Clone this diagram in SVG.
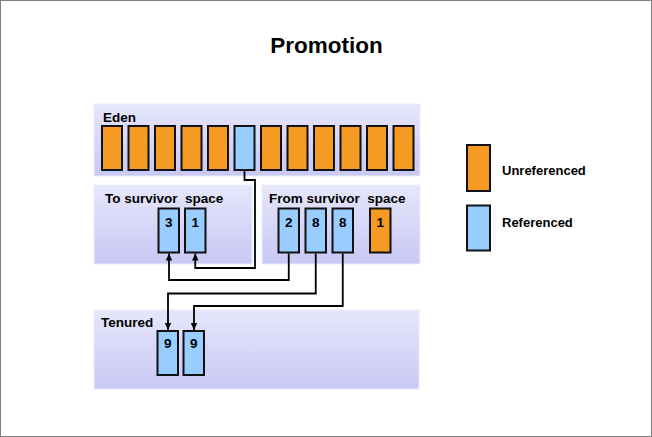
<svg xmlns="http://www.w3.org/2000/svg" width="652" height="437" viewBox="0 0 652 437">
<defs>
<linearGradient id="pg" x1="0" y1="0" x2="0" y2="1">
<stop offset="0" stop-color="#e6e6fb"/>
<stop offset="1" stop-color="#c8c8f5"/>
</linearGradient>
<marker id="ah" markerUnits="userSpaceOnUse" markerWidth="8" markerHeight="8" refX="7" refY="4" orient="auto">
<path d="M0,0.8 L7,4 L0,7.2 Z" fill="#000"/>
</marker>
</defs>
<style>
.panel{fill:url(#pg);stroke:#ececfc;stroke-width:1}
.blk{stroke:#111;stroke-width:2}
.or{fill:#f59b23}
.bl{fill:#99ccff}
.lbl{font-family:"Liberation Sans",Arial,sans-serif;font-weight:bold;font-size:13.5px;fill:#000;white-space:pre}
.num{font-family:"Liberation Sans",Arial,sans-serif;font-weight:bold;font-size:13.5px;fill:#000;text-anchor:middle}
.leg{font-family:"Liberation Sans",Arial,sans-serif;font-weight:bold;font-size:13px;fill:#000}
.con{fill:none;stroke:#000;stroke-width:1.8}
</style>
<rect x="0.5" y="0.5" width="651" height="436" fill="#fff" stroke="#808080"/>
<text x="326.5" y="53" text-anchor="middle" font-family="Liberation Sans,Arial,sans-serif" font-weight="bold" font-size="22.5">Promotion</text>

<g id="eden">
<rect class="panel" x="94" y="104" width="326" height="72"/>
<text class="lbl" x="103" y="122">Eden</text>
<rect class="blk or" x="102" y="126" width="20" height="44"/>
<rect class="blk or" x="128.5" y="126" width="20" height="44"/>
<rect class="blk or" x="155" y="126" width="20" height="44"/>
<rect class="blk or" x="181.5" y="126" width="20" height="44"/>
<rect class="blk or" x="208" y="126" width="20" height="44"/>
<rect class="blk bl" x="234.5" y="126" width="20" height="44"/>
<rect class="blk or" x="261" y="126" width="20" height="44"/>
<rect class="blk or" x="287.5" y="126" width="20" height="44"/>
<rect class="blk or" x="314" y="126" width="20" height="44"/>
<rect class="blk or" x="340.5" y="126" width="20" height="44"/>
<rect class="blk or" x="367" y="126" width="20" height="44"/>
<rect class="blk or" x="393.5" y="126" width="20" height="44"/>
</g>

<g id="to-survivor">
<rect class="panel" x="94" y="185" width="158" height="79"/>
<text class="lbl" x="105" y="203">To survivor  space</text>
<rect class="blk bl" x="158.5" y="208.5" width="20.5" height="44"/>
<text class="num" x="168.75" y="227">3</text>
<rect class="blk bl" x="185" y="208.5" width="20.5" height="44"/>
<text class="num" x="195.25" y="227">1</text>
</g>

<g id="from-survivor">
<rect class="panel" x="262" y="185" width="158" height="79"/>
<text class="lbl" x="269" y="203">From survivor  space</text>
<rect class="blk bl" x="278.5" y="208.5" width="20.5" height="44"/>
<text class="num" x="288.75" y="227">2</text>
<rect class="blk bl" x="305.5" y="208.5" width="20.5" height="44"/>
<text class="num" x="315.75" y="227">8</text>
<rect class="blk bl" x="332.5" y="208.5" width="20.5" height="44"/>
<text class="num" x="342.75" y="227">8</text>
<rect class="blk or" x="370" y="208.5" width="20.5" height="44"/>
<text class="num" x="380.25" y="227">1</text>
</g>

<g id="tenured">
<rect class="panel" x="94" y="310" width="325" height="79"/>
<text class="lbl" x="101" y="327">Tenured</text>
<rect class="blk bl" x="157.5" y="331" width="20.5" height="44"/>
<text class="num" x="167.75" y="348">9</text>
<rect class="blk bl" x="183.5" y="331" width="20.5" height="44"/>
<text class="num" x="193.75" y="348">9</text>
</g>

<g id="legend">
<rect class="blk or" x="467" y="145" width="23" height="46"/>
<text class="leg" x="502" y="175">Unreferenced</text>
<rect class="blk bl" x="467" y="205.5" width="23" height="45"/>
<text class="leg" x="502" y="227">Referenced</text>
</g>

<g id="connectors">
<path class="con" d="M244.5 171 V180 H255 V268 H195.25 V253.5" marker-end="url(#ah)"/>
<path class="con" d="M288.75 253.5 V280 H169 V253.5" marker-end="url(#ah)"/>
<path class="con" d="M315.75 253.5 V293.5 H168 V330" marker-end="url(#ah)"/>
<path class="con" d="M342.75 253.5 V306 H194 V330" marker-end="url(#ah)"/>
</g>
</svg>
